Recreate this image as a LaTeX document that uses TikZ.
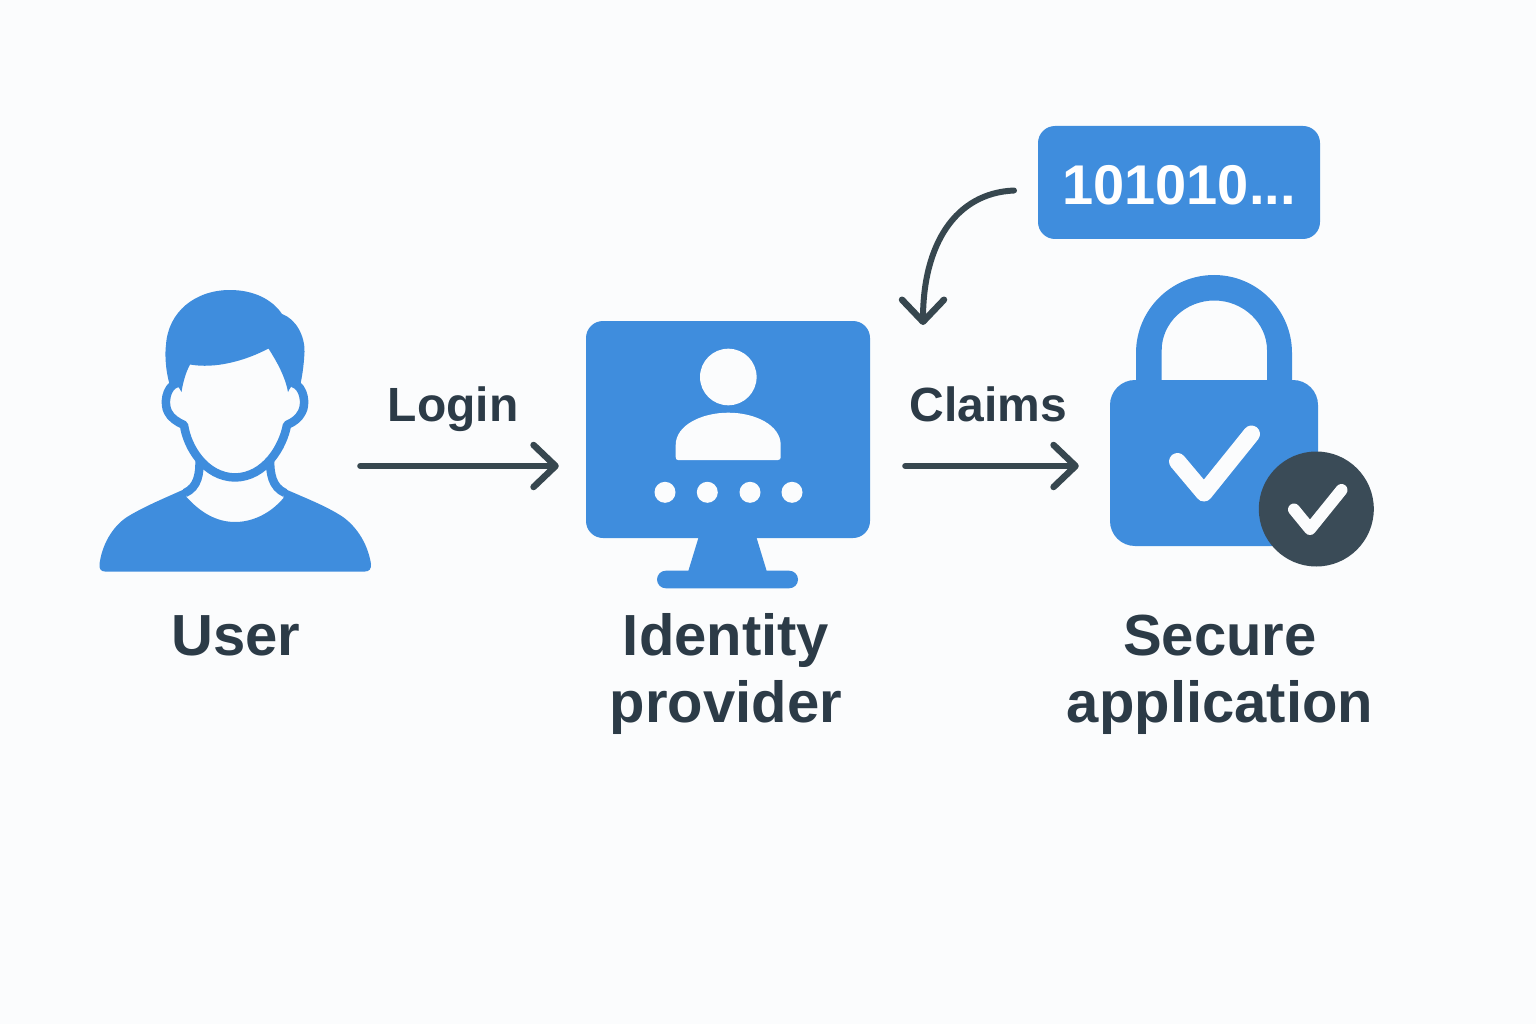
\documentclass[tikz,border=0pt]{standalone}
\usepackage{fontspec}
\setmainfont{Liberation Sans}
\newfontfamily\lab{Liberation Sans}
\usetikzlibrary{arrows.meta}
\definecolor{bgc}{HTML}{FBFCFD}
\definecolor{blu}{HTML}{3F8DDD}
\definecolor{ink}{HTML}{2C3B47}
\definecolor{arr}{HTML}{37474F}
\definecolor{badge}{HTML}{3A4B57}
\tikzset{
  big/.style={font=\lab\bfseries\fontsize{58}{67}\selectfont,text=ink,align=center,inner sep=0pt,anchor=base},
  small/.style={font=\lab\bfseries\fontsize{48}{50}\selectfont,text=ink,inner sep=0pt,anchor=base},
  flow/.style={draw=arr,line width=6pt,line cap=round,-{Straight Barb[length=22pt,width=42pt,round,line width=6.5pt]}},
  panel/.style={fill=blu,rounded corners=17pt,inner sep=0pt},
  ghost/.style={inner sep=0pt},
  ringline/.style={draw=blu,line width=8.5pt,line cap=butt,line join=round},
  tick/.style={draw=bgc,line cap=round,line join=round},
}
\begin{document}
\begin{tikzpicture}[x=1pt,y=-1pt]
\useasboundingbox[fill=bgc] (0,0) rectangle (1536,1024);
\coordinate (flowy) at (0,466);
% --- user icon
\node[ghost,minimum width=261pt,minimum height=282pt] (user) at (229.5,430) {};
\fill[blu] (105,571.5) -- (365,571.5)
  .. controls (369,571.5) and (371.5,569) .. (371,564)
  .. controls (368,545) and (358,528) .. (343,517)
  .. controls (325,505) and (300,496) .. (283,488)
  -- (283.5,498)
  .. controls (270,514) and (252,522) .. (235,522)
  .. controls (216,522) and (200,512) .. (186.5,497)
  -- (187,488)
  .. controls (165,498) and (145,506) .. (127,517)
  .. controls (112,527) and (102,545) .. (99.5,564)
  .. controls (99,569) and (101,571.5) .. (105,571.5) -- cycle;
\draw[ringline] (199.5,458) .. controls (200,474) and (198,487) .. (185,493);
\draw[ringline] (270,458) .. controls (270,474) and (272,487) .. (285,493);
\draw[ringline] (177,383)
  .. controls (165,387) and (164,405) .. (168,412)
  .. controls (171,418) and (177,422) .. (184,425)
  .. controls (187,447) and (205,477) .. (235,477.5)
  .. controls (265,477) and (283,447) .. (287,425)
  .. controls (294,422) and (299,418) .. (302,412)
  .. controls (306,405) and (305,387) .. (293,383);
\fill[blu] (169.5,384)
  .. controls (165,368) and (165,352) .. (166,345)
  .. controls (168,312) and (195,290) .. (230,290)
  .. controls (253,290) and (272,299) .. (282,314)
  .. controls (296,319) and (305,336) .. (304.5,352)
  .. controls (304,362) and (303,372) .. (300.5,384)
  -- (297,382) .. controls (293,383) and (290,388) .. (288,392)
  .. controls (285,376) and (277,362) .. (268.5,348.5)
  .. controls (245,361) and (215,369) .. (190,364.5)
  .. controls (186,372) and (183,382) .. (181.5,392)
  .. controls (179,387) and (176,384) .. (173,382) -- cycle;
\node[big] (userlabel) at (236,655.5) {User};
% --- login
\node[small] (login) at (453,421) {Login};
% --- identity provider
\node[panel,minimum width=284pt,minimum height=217pt] (idp) at (728,429.5) {};
\fill[blu] (699,536) -- (756,536) -- (767,572) -- (688,572) -- cycle;
\node[panel,rounded corners=8.8pt,minimum width=141pt,minimum height=17.6pt] (stand) at (727.5,579.5) {};
\fill[bgc] (728.3,377) circle[radius=28.3];
\fill[bgc] (678,460) .. controls (676.5,460) and (675.7,459) .. (675.7,457)
  -- (675.7,445) .. controls (675.7,425) and (702,412.7) .. (728.3,412.7)
  .. controls (755,412.7) and (780.7,425) .. (780.7,445)
  -- (780.7,457) .. controls (780.7,459) and (780,460) .. (778,460) -- cycle;
\foreach \x in {665,707.3,750,792} \fill[bgc] (\x,492.3) circle[radius=10.5];
\node[big] (idplabel) at (726,722) {Identity\\provider};
\draw[flow,shorten >=27pt] (user.east |- flowy) -- (idp.west |- flowy);
% --- claims
\node[small] (claims) at (988.5,421) {Claims};
% --- lock
\fill[blu] (1136,382) -- (1136,353)
  .. controls (1136,310) and (1171,275) .. (1214,275)
  .. controls (1257,275) and (1292,310) .. (1292,353)
  -- (1292,382) -- (1267,382) -- (1267,350)
  .. controls (1267,323) and (1243,300.5) .. (1214.3,300.5)
  .. controls (1185.5,300.5) and (1161.7,323) .. (1161.7,350)
  -- (1161.7,382) -- cycle;
\node[panel,rounded corners=25pt,minimum width=208pt,minimum height=166pt] (lock) at (1214,463) {};
\draw[tick,line width=17pt] (1177.5,461.5) -- (1204,493) -- (1251.5,434);
\fill[badge] (1316.3,509) circle[radius=57.5];
\draw[tick,line width=12pt] (1294,509.5) -- (1310,529) -- (1341.5,490);
\node[big] (applabel) at (1220,722) {Secure\\application};
\draw[flow,shorten <=35pt,shorten >=31pt] (idp.east |- flowy) -- (lock.west |- flowy);
% --- token
\node[panel,minimum width=282pt,text height=79pt,text depth=34pt,text=white,font=\lab\bfseries\fontsize{56}{60}\selectfont] (code) at (1179,182.5) {101010...};
\coordinate (codeout) at (1014,190.5);
\coordinate (claimsin) at (923,325);
\draw[flow] (codeout) .. controls (955,193) and (923,245) .. (claimsin);
\end{tikzpicture}
\end{document}
